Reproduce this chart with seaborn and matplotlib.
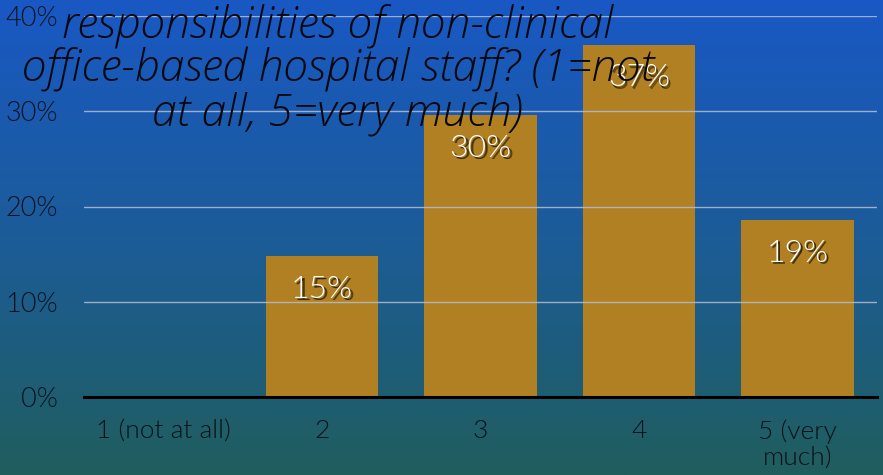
import numpy as np
import matplotlib
matplotlib.use("Agg")
import matplotlib.pyplot as plt
from matplotlib import font_manager as fm
import seaborn as sns
import pandas as pd

# Survey responses: share of respondents per rating
categories = ["1 (not at all)", "2", "3", "4", "5 (very\nmuch)"]
shares = [0.0, 14.8, 29.6, 37.0, 18.6]
value_labels = ["", "15%", "30%", "37%", "19%"]
y_ticks = [0, 10, 20, 30, 40]
y_tick_labels = ["0%", "10%", "20%", "30%", "40%"]
title_text = ("responsibilities of non-clinical\n"
              "office-based hospital staff? (1=not\n"
              "at all, 5=very much)")

sns.set_theme(style="white")
plt.rcParams["font.family"] = ["Lato", "DejaVu Sans"]

installed = {f.name for f in fm.fontManager.ttflist}


def first_font(*names):
    for n in names:
        if n in installed:
            return n
    return "DejaVu Sans"


thin = first_font("Lato", "Open Sans")
italic_face = first_font("Open Sans", "Lato")

title_font = fm.FontProperties(family=italic_face, style="italic", weight=300, size=32)
xtick_font = fm.FontProperties(family=thin, weight=300, size=19)
ytick_font = fm.FontProperties(family=thin, weight=300, size=19.5)
value_font = fm.FontProperties(family=thin, weight=300, size=23)

W, H = 883, 475
fig = plt.figure(figsize=(W / 100, H / 100), dpi=100)

# vertical gradient backdrop, blue at top fading to teal at bottom
bg = fig.add_axes([0, 0, 1, 1], zorder=-10)
top = np.array([0x19, 0x58, 0xC4]) / 255
mid = np.array([0x1C, 0x5C, 0x98]) / 255
bot = np.array([0x20, 0x5E, 0x5E]) / 255
t = np.linspace(0, 1, 256)[:, None]
grad = np.where(t < 0.5, top + (mid - top) * (t / 0.5),
                mid + (bot - mid) * ((t - 0.5) / 0.5))
bg.imshow(grad[:, None, :], aspect="auto", extent=[0, 1, 0, 1], origin="upper")
bg.set_axis_off()

ax = fig.add_axes([84 / W, (H - 397) / H, (877 - 84) / W, (397 - 16) / H])
ax.patch.set_alpha(0)

df = pd.DataFrame({"rating": categories, "share": shares})
sns.barplot(data=df, x="rating", y="share", color="#B08022", saturation=1,
            width=0.71, linewidth=0, ax=ax, zorder=1)

ax.set_ylim(0, 40)
ax.set_xlim(-0.5, len(categories) - 0.5)
ax.set_yticks(y_ticks)
ax.set_yticklabels(y_tick_labels, fontproperties=ytick_font, color="#0a1220")
ax.set_xticks(range(len(categories)))
ax.set_xticklabels(categories, fontproperties=xtick_font, color="#0a1218",
                   linespacing=1.12)
ax.tick_params(axis="y", length=0, pad=19)
ax.tick_params(axis="x", length=0, pad=16)
ax.set_xlabel("")
ax.set_ylabel("")

ax.set_axisbelow(False)
ax.yaxis.grid(True, color="#b4bed2", linewidth=1.0, alpha=0.85, zorder=2.5)
ax.xaxis.grid(False)
for side in ["top", "right", "left"]:
    ax.spines[side].set_visible(False)
ax.spines["bottom"].set_color("black")
ax.spines["bottom"].set_linewidth(2.2)
ax.spines["bottom"].set_zorder(3)

# value labels: white text over a soft dark drop shadow
for i, (v, lab) in enumerate(zip(shares, value_labels)):
    if not lab:
        continue
    for dx, dy, a in [(1.8, -1.8, 0.45), (1.2, -1.2, 0.45)]:
        ax.annotate(lab, xy=(i, v), xytext=(dx, -24 + dy), textcoords="offset points",
                    ha="center", va="center", fontproperties=value_font,
                    color="black", alpha=a, zorder=4)
    ax.annotate(lab, xy=(i, v), xytext=(0, -24), textcoords="offset points",
                ha="center", va="center", fontproperties=value_font,
                color="white", zorder=5)

fig.text(338 / W, 1 - 3 / H, title_text, ha="center", va="top",
         fontproperties=title_font, color="#08080e", linespacing=0.99, zorder=10)

fig.savefig("out.png", dpi=100)
